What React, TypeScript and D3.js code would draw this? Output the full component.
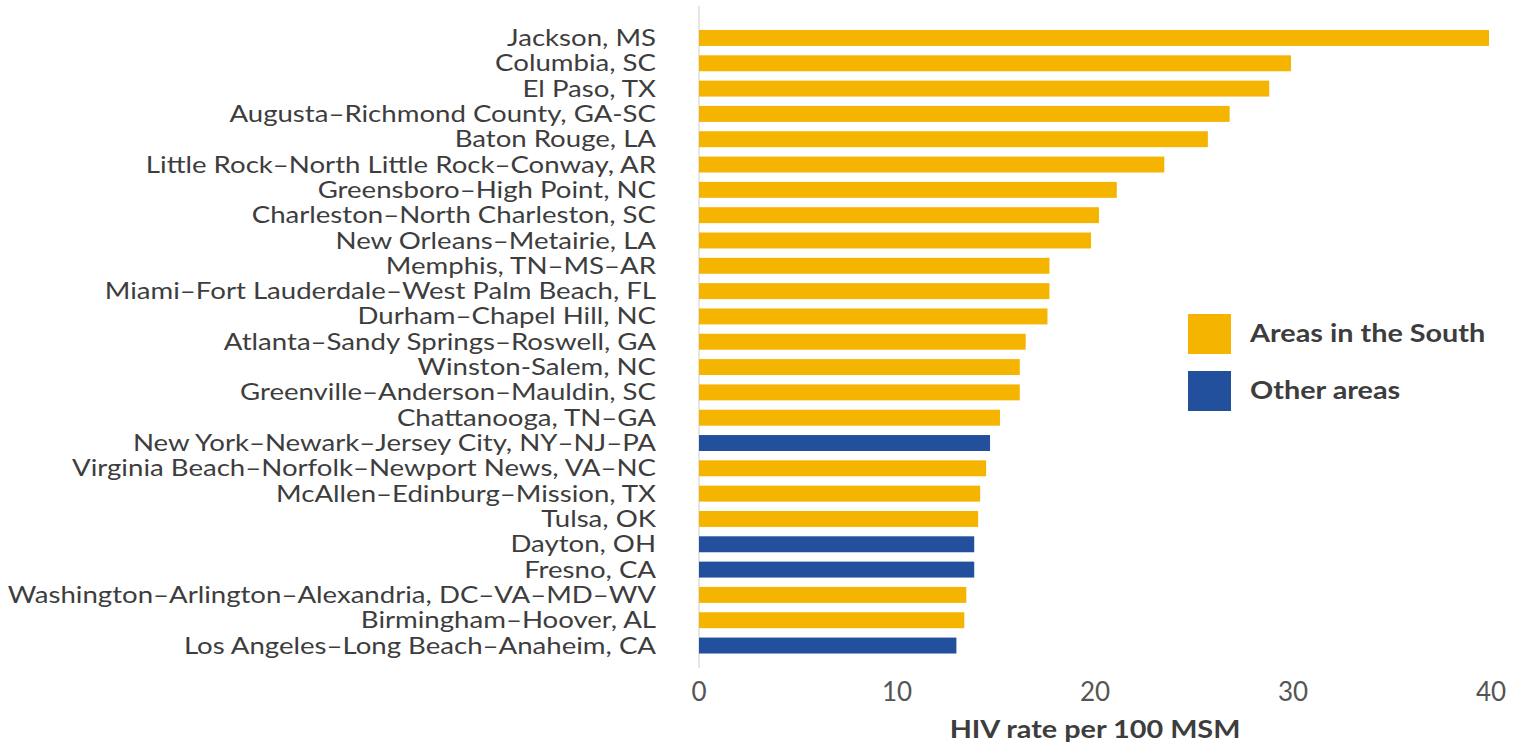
import { useMemo } from 'react'
import * as d3 from 'd3'

const W = 1537
const H = 747

const cities = [
  'Jackson, MS',
  'Columbia, SC',
  'El Paso, TX',
  'Augusta–Richmond County, GA-SC',
  'Baton Rouge, LA',
  'Little Rock–North Little Rock–Conway, AR',
  'Greensboro–High Point, NC',
  'Charleston–North Charleston, SC',
  'New Orleans–Metairie, LA',
  'Memphis, TN–MS–AR',
  'Miami–Fort Lauderdale–West Palm Beach, FL',
  'Durham–Chapel Hill, NC',
  'Atlanta–Sandy Springs–Roswell, GA',
  'Winston-Salem, NC',
  'Greenville–Anderson–Mauldin, SC',
  'Chattanooga, TN–GA',
  'New York–Newark–Jersey City, NY–NJ–PA',
  'Virginia Beach–Norfolk–Newport News, VA–NC',
  'McAllen–Edinburg–Mission, TX',
  'Tulsa, OK',
  'Dayton, OH',
  'Fresno, CA',
  'Washington–Arlington–Alexandria, DC–VA–MD–WV',
  'Birmingham–Hoover, AL',
  'Los Angeles–Long Beach–Anaheim, CA',
]

const rates = [
  39.9, 29.9, 28.8, 26.8, 25.7, 23.5, 21.1, 20.2, 19.8, 17.7, 17.7, 17.6, 16.5,
  16.2, 16.2, 15.2, 14.7, 14.5, 14.2, 14.1, 13.9, 13.9, 13.5, 13.4, 13.0,
]

const regions = [
  'South', 'South', 'South', 'South', 'South', 'South', 'South', 'South',
  'South', 'South', 'South', 'South', 'South', 'South', 'South', 'South',
  'Other', 'South', 'South', 'South', 'Other', 'Other', 'South', 'South',
  'Other',
]

const xTicks = [0, 10, 20, 30, 40]

const legendKeys = ['South', 'Other']
const legendLabels = ['Areas in the South', 'Other areas']

const YELLOW = '#F5B400'
const BLUE = '#22509C'
const TEXT = '#3d3d3d'
const FONT = 'Lato, "Open Sans", sans-serif'
// the source image is a bit stretched sideways
const SX = 1.2

export default function App() {
  const x = useMemo(() => d3.scaleLinear().domain([0, 40]).range([699, 1491]), [])
  const y = useMemo(
    () =>
      d3
        .scaleBand<string>()
        .domain(cities)
        .range([25.3, 658.2])
        .paddingInner(0.37)
        .paddingOuter(0.185),
    []
  )
  const color = d3.scaleOrdinal<string, string>().domain(legendKeys).range([YELLOW, BLUE])

  const data = cities.map((c, i) => ({ city: c, rate: rates[i], region: regions[i] }))

  return (
    <svg
      width={W}
      height={H}
      style={{ position: 'absolute', left: 0, top: 0, background: '#fff' }}
      fontFamily={FONT}
    >
      {/* zero line */}
      <line x1={x(0)} x2={x(0)} y1={6} y2={668} stroke="#d6d6d6" strokeWidth={1.2} />

      {data.map((d) => (
        <rect
          key={d.city}
          x={x(0)}
          y={y(d.city)}
          width={x(d.rate) - x(0)}
          height={y.bandwidth()}
          fill={color(d.region)}
        />
      ))}

      {data.map((d) => (
        <text
          key={d.city}
          transform={`translate(656, ${(y(d.city) ?? 0) + y.bandwidth() / 2}) scale(${SX}, 1)`}
          dy="0.35em"
          textAnchor="end"
          fontSize={23}
          fill={TEXT}
        >
          {d.city}
        </text>
      ))}

      {xTicks.map((t) => (
        <text
          key={t}
          x={x(t)}
          y={701}
          textAnchor="middle"
          fontSize={26}
          fill="#555"
        >
          {t}
        </text>
      ))}
      <text
        transform={`translate(${(x(0) + x(40)) / 2}, 738) scale(${SX}, 1)`}
        textAnchor="middle"
        fontSize={24}
        fontWeight={700}
        fill={TEXT}
      >
        HIV rate per 100 MSM
      </text>

      {legendKeys.map((k, i) => (
        <g key={k} transform={`translate(1188, ${314 + i * 57})`}>
          <rect width={43} height={40} fill={color(k)} />
          <text
            transform={`translate(62, 20) scale(${SX}, 1)`}
            dy="0.35em"
            fontSize={24}
            fontWeight={700}
            fill={TEXT}
          >
            {legendLabels[i]}
          </text>
        </g>
      ))}
    </svg>
  )
}
